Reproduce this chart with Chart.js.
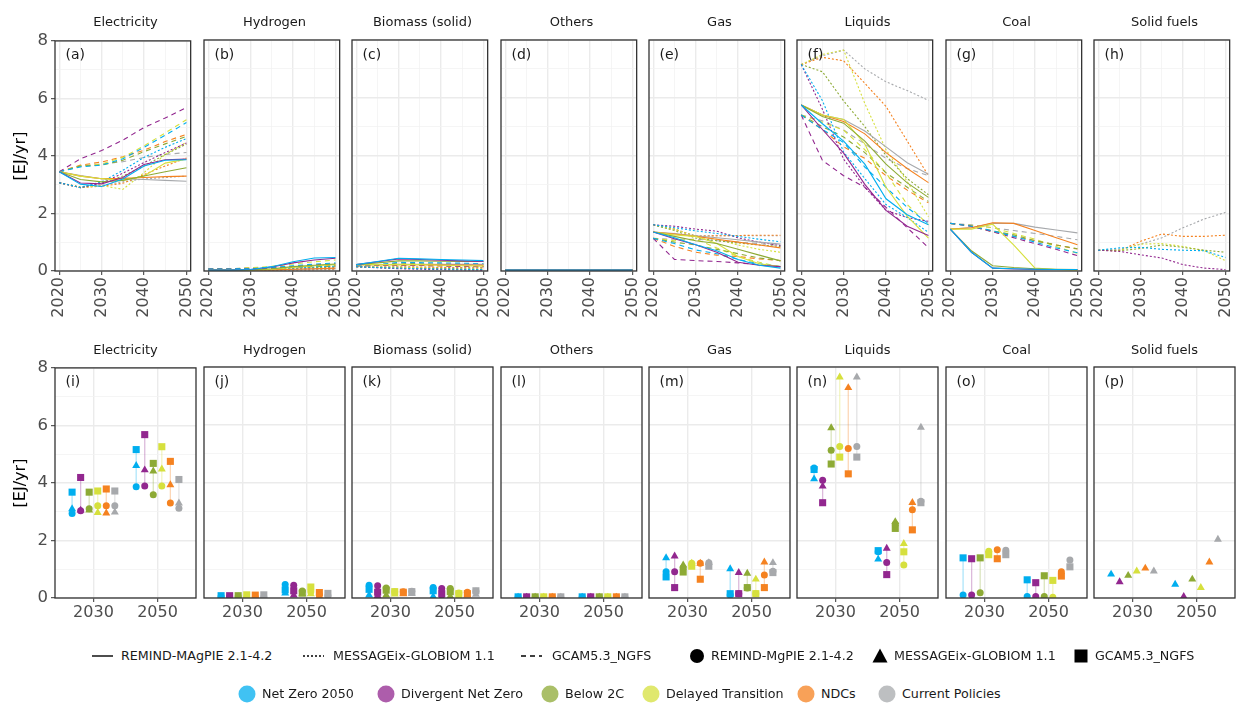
<!DOCTYPE html>
<html>
<head>
<meta charset="utf-8">
<title>Final energy by carrier</title>
<script src="https://cdn.jsdelivr.net/npm/chart.js@4.4.1/dist/chart.umd.min.js"></script>
<style>
  html, body { margin: 0; padding: 0; background: #ffffff; }
  #figure { position: relative; width: 1240px; height: 706px; overflow: hidden;
            font-family: "DejaVu Sans", Verdana, sans-serif; }
  #figure canvas { position: absolute; }
  .strip { position: absolute; width: 141px; text-align: center; font-size: 13px;
           line-height: 15px; color: #1a1a1a; white-space: nowrap; }
  .tag { position: absolute; font-size: 14px; line-height: 16px; color: #1a1a1a; }
  .ytitle { position: absolute; font-size: 16px; line-height: 18px; color: #000;
            white-space: nowrap; transform: translate(-50%, -50%) rotate(-90deg); }
  .lg-text { position: absolute; font-size: 12.7px; line-height: 16px; color: #1a1a1a;
             white-space: nowrap; }
  .lg-key { position: absolute; }
</style>
</head>
<body>
<div id="figure"></div>
<script>
// ---- categories -------------------------------------------------------------
const years = [2020, 2025, 2030, 2035, 2040, 2045, 2050];
const pointYears = [2030, 2050];
const carriers = ['Electricity', 'Hydrogen', 'Biomass (solid)', 'Others',
                  'Gas', 'Liquids', 'Coal', 'Solid fuels'];
const scenarios = ['Net Zero 2050', 'Divergent Net Zero', 'Below 2C',
                   'Delayed Transition', 'NDCs', 'Current Policies'];
const scenarioColors = ['#00AEEF', '#92278F', '#8DAA35', '#D6E03D', '#F58220', '#A7A9AC'];
const lineModels = ['REMIND-MAgPIE 2.1-4.2', 'MESSAGEix-GLOBIOM 1.1', 'GCAM5.3_NGFS'];
const pointModels = ['REMIND-MgPIE 2.1-4.2', 'MESSAGEix-GLOBIOM 1.1', 'GCAM5.3_NGFS'];
const yTickValues = [0, 1, 2, 3, 4, 5, 6, 7, 8];
const yearTickValues = [2020, 2025, 2030, 2035, 2040, 2045, 2050];

// ---- final energy, EJ/yr; rows follow the scenario order, columns the years ----
const electricityRemind = [
  [3.45, 3.02, 2.94, 3.20, 3.65, 3.85, 3.87],
  [3.45, 3.06, 3.03, 3.25, 3.70, 3.87, 3.89],
  [3.45, 3.18, 3.10, 3.15, 3.30, 3.45, 3.59],
  [3.45, 3.30, 3.21, 3.15, 3.30, 3.75, 3.89],
  [3.45, 3.30, 3.21, 3.22, 3.25, 3.28, 3.30],
  [3.45, 3.32, 3.21, 3.20, 3.18, 3.15, 3.12]
];
const electricityMessage = [
  [3.07, 2.90, 3.10, 3.50, 3.95, 4.30, 4.60],
  [3.07, 2.90, 3.05, 3.40, 3.77, 4.12, 4.45],
  [3.07, 2.92, 3.05, 3.30, 3.65, 4.05, 4.41],
  [3.07, 2.90, 2.97, 2.84, 3.42, 4.05, 4.48],
  [3.07, 2.90, 2.95, 3.05, 3.35, 3.65, 3.93],
  [3.07, 2.90, 2.98, 3.10, 3.20, 3.25, 3.30]
];
const electricityGcam = [
  [3.45, 3.62, 3.68, 3.90, 4.30, 4.72, 5.16],
  [3.45, 3.90, 4.19, 4.55, 4.99, 5.32, 5.68],
  [3.45, 3.65, 3.68, 3.85, 4.15, 4.42, 4.68],
  [3.45, 3.65, 3.72, 3.95, 4.35, 4.80, 5.26],
  [3.45, 3.68, 3.79, 3.97, 4.20, 4.50, 4.75],
  [3.45, 3.65, 3.72, 3.80, 3.95, 4.05, 4.12]
];

const hydrogenRemind = [
  [0.03, 0.03, 0.05, 0.15, 0.32, 0.45, 0.47],
  [0.03, 0.03, 0.05, 0.14, 0.28, 0.38, 0.44],
  [0.03, 0.03, 0.04, 0.08, 0.15, 0.20, 0.24],
  [0.03, 0.03, 0.03, 0.06, 0.12, 0.18, 0.22],
  [0.03, 0.03, 0.03, 0.04, 0.06, 0.08, 0.10],
  [0.03, 0.03, 0.03, 0.04, 0.05, 0.07, 0.08]
];
const hydrogenMessage = [
  [0.02, 0.02, 0.03, 0.06, 0.10, 0.14, 0.17],
  [0.02, 0.02, 0.02, 0.04, 0.06, 0.08, 0.10],
  [0.02, 0.02, 0.03, 0.05, 0.09, 0.12, 0.14],
  [0.02, 0.02, 0.02, 0.04, 0.08, 0.11, 0.14],
  [0.02, 0.02, 0.02, 0.03, 0.04, 0.05, 0.06],
  [0.02, 0.02, 0.02, 0.03, 0.04, 0.04, 0.05]
];
const hydrogenGcam = [
  [0.07, 0.07, 0.08, 0.12, 0.18, 0.24, 0.28],
  [0.07, 0.07, 0.08, 0.10, 0.15, 0.21, 0.25],
  [0.07, 0.07, 0.08, 0.09, 0.12, 0.15, 0.17],
  [0.07, 0.07, 0.11, 0.16, 0.24, 0.32, 0.38],
  [0.07, 0.07, 0.10, 0.12, 0.14, 0.17, 0.19],
  [0.07, 0.07, 0.11, 0.12, 0.13, 0.15, 0.16]
];

const biomassRemind = [
  [0.22, 0.33, 0.44, 0.42, 0.40, 0.38, 0.36],
  [0.22, 0.32, 0.42, 0.40, 0.37, 0.35, 0.33],
  [0.22, 0.28, 0.35, 0.35, 0.34, 0.33, 0.33],
  [0.22, 0.22, 0.22, 0.22, 0.20, 0.18, 0.17],
  [0.22, 0.22, 0.22, 0.22, 0.21, 0.21, 0.20],
  [0.22, 0.22, 0.23, 0.23, 0.23, 0.23, 0.23]
];
const biomassMessage = [
  [0.15, 0.12, 0.10, 0.08, 0.07, 0.06, 0.05],
  [0.15, 0.11, 0.08, 0.06, 0.05, 0.04, 0.03],
  [0.15, 0.12, 0.10, 0.09, 0.08, 0.07, 0.06],
  [0.15, 0.14, 0.13, 0.11, 0.09, 0.07, 0.06],
  [0.15, 0.14, 0.14, 0.13, 0.12, 0.11, 0.10],
  [0.15, 0.15, 0.15, 0.14, 0.13, 0.12, 0.12]
];
const biomassGcam = [
  [0.18, 0.22, 0.30, 0.29, 0.28, 0.27, 0.25],
  [0.18, 0.19, 0.20, 0.19, 0.18, 0.16, 0.15],
  [0.18, 0.22, 0.27, 0.25, 0.24, 0.23, 0.22],
  [0.18, 0.20, 0.22, 0.20, 0.18, 0.16, 0.15],
  [0.18, 0.19, 0.20, 0.19, 0.18, 0.16, 0.15],
  [0.18, 0.20, 0.22, 0.23, 0.24, 0.24, 0.25]
];

const othersRemind = [
  [0.03, 0.03, 0.03, 0.03, 0.03, 0.03, 0.03],
  [0.03, 0.03, 0.03, 0.03, 0.03, 0.03, 0.03],
  [0.03, 0.03, 0.03, 0.03, 0.03, 0.03, 0.03],
  [0.03, 0.03, 0.03, 0.03, 0.03, 0.03, 0.03],
  [0.03, 0.03, 0.03, 0.03, 0.03, 0.03, 0.03],
  [0.03, 0.03, 0.03, 0.03, 0.03, 0.03, 0.03]
];
const othersMessage = [
  [0.02, 0.02, 0.02, 0.02, 0.02, 0.02, 0.02],
  [0.02, 0.02, 0.02, 0.02, 0.02, 0.02, 0.02],
  [0.02, 0.02, 0.02, 0.02, 0.02, 0.02, 0.02],
  [0.02, 0.02, 0.02, 0.02, 0.02, 0.02, 0.02],
  [0.02, 0.02, 0.02, 0.02, 0.02, 0.02, 0.02],
  [0.02, 0.02, 0.02, 0.02, 0.02, 0.02, 0.02]
];
const othersGcam = [
  [0.04, 0.04, 0.04, 0.04, 0.04, 0.04, 0.04],
  [0.04, 0.04, 0.04, 0.04, 0.04, 0.04, 0.04],
  [0.04, 0.04, 0.04, 0.04, 0.04, 0.04, 0.04],
  [0.04, 0.04, 0.04, 0.04, 0.04, 0.04, 0.04],
  [0.04, 0.04, 0.04, 0.04, 0.04, 0.04, 0.04],
  [0.04, 0.04, 0.04, 0.04, 0.04, 0.04, 0.04]
];

const gasRemind = [
  [1.35, 1.15, 0.91, 0.70, 0.40, 0.20, 0.10],
  [1.35, 1.12, 0.91, 0.65, 0.30, 0.20, 0.15],
  [1.35, 1.20, 1.05, 0.95, 0.75, 0.55, 0.35],
  [1.35, 1.25, 1.20, 0.95, 0.50, 0.25, 0.15],
  [1.35, 1.28, 1.20, 1.10, 1.00, 0.90, 0.80],
  [1.35, 1.30, 1.22, 1.15, 1.08, 1.00, 0.93]
];
const gasMessage = [
  [1.60, 1.50, 1.39, 1.30, 1.20, 1.10, 1.01],
  [1.60, 1.55, 1.45, 1.38, 1.15, 1.00, 0.88],
  [1.60, 1.40, 1.14, 1.05, 0.97, 0.90, 0.85],
  [1.60, 1.45, 1.20, 1.10, 0.90, 0.75, 0.65],
  [1.60, 1.45, 1.20, 1.22, 1.23, 1.24, 1.24],
  [1.60, 1.45, 1.22, 1.22, 1.22, 1.22, 1.22]
];
const gasGcam = [
  [1.13, 0.95, 0.73, 0.60, 0.40, 0.25, 0.15],
  [1.13, 0.40, 0.36, 0.33, 0.28, 0.22, 0.15],
  [1.13, 1.00, 0.90, 0.75, 0.60, 0.45, 0.36],
  [1.13, 1.05, 1.10, 0.80, 0.50, 0.30, 0.15],
  [1.13, 0.85, 0.65, 0.55, 0.50, 0.42, 0.36],
  [1.13, 1.10, 1.10, 1.05, 1.00, 0.95, 0.88]
];

const liquidsRemind = [
  [5.75, 5.10, 4.50, 3.70, 2.50, 1.95, 1.60],
  [5.75, 4.90, 4.08, 3.00, 2.10, 1.55, 1.23],
  [5.75, 5.35, 5.12, 4.50, 3.70, 3.05, 2.55],
  [5.75, 5.40, 5.25, 4.40, 2.90, 1.90, 1.14],
  [5.75, 5.40, 5.18, 4.75, 4.10, 3.55, 3.06],
  [5.75, 5.40, 5.25, 4.85, 4.30, 3.75, 3.35]
];
const liquidsMessage = [
  [7.15, 5.90, 4.12, 3.20, 2.30, 1.85, 1.34],
  [7.15, 5.60, 3.87, 2.90, 2.10, 1.85, 1.72],
  [7.15, 6.90, 5.89, 5.00, 4.00, 3.20, 2.64],
  [7.15, 7.50, 7.65, 5.80, 4.20, 3.10, 1.88],
  [7.15, 7.40, 7.28, 6.50, 5.70, 4.50, 3.30],
  [7.15, 7.45, 7.65, 7.00, 6.55, 6.25, 5.91]
];
const liquidsGcam = [
  [5.40, 4.90, 4.45, 3.60, 2.90, 2.20, 1.64],
  [5.40, 3.83, 3.30, 2.90, 2.20, 1.50, 0.81],
  [5.40, 5.00, 4.64, 4.10, 3.40, 2.90, 2.41],
  [5.40, 5.15, 4.88, 4.20, 3.40, 2.30, 1.60],
  [5.40, 4.90, 4.30, 3.90, 3.30, 2.80, 2.36],
  [5.40, 5.20, 4.88, 4.40, 3.90, 3.55, 3.30]
];

const coalRemind = [
  [1.45, 0.65, 0.10, 0.08, 0.06, 0.05, 0.05],
  [1.45, 0.65, 0.10, 0.07, 0.05, 0.05, 0.05],
  [1.45, 0.70, 0.18, 0.12, 0.08, 0.06, 0.05],
  [1.45, 1.45, 1.62, 0.90, 0.10, 0.05, 0.03],
  [1.45, 1.50, 1.67, 1.65, 1.40, 1.15, 0.91],
  [1.45, 1.50, 1.65, 1.65, 1.52, 1.42, 1.32]
];
const coalMessage = null;
const coalGcam = [
  [1.65, 1.55, 1.39, 1.20, 1.00, 0.80, 0.63],
  [1.65, 1.55, 1.36, 1.15, 0.95, 0.75, 0.53],
  [1.65, 1.56, 1.39, 1.25, 1.05, 0.90, 0.77],
  [1.65, 1.58, 1.50, 1.30, 1.10, 0.85, 0.61],
  [1.65, 1.55, 1.36, 1.20, 1.05, 0.90, 0.76],
  [1.65, 1.60, 1.50, 1.40, 1.30, 1.20, 1.08]
];

const solidFuelsRemind = null;
const solidFuelsMessage = [
  [0.72, 0.80, 0.82, 0.75, 0.72, 0.70, 0.47],
  [0.72, 0.68, 0.56, 0.45, 0.22, 0.10, 0.05],
  [0.72, 0.70, 0.78, 0.90, 0.82, 0.72, 0.65],
  [0.72, 0.72, 0.93, 0.95, 0.85, 0.70, 0.36],
  [0.72, 0.70, 1.03, 1.28, 1.20, 1.20, 1.24],
  [0.72, 0.75, 0.93, 1.15, 1.50, 1.80, 2.03]
];
const solidFuelsGcam = null;

// per carrier: [REMIND, MESSAGE, GCAM]
const carrierSeries = [
  [electricityRemind, electricityMessage, electricityGcam],
  [hydrogenRemind, hydrogenMessage, hydrogenGcam],
  [biomassRemind, biomassMessage, biomassGcam],
  [othersRemind, othersMessage, othersGcam],
  [gasRemind, gasMessage, gasGcam],
  [liquidsRemind, liquidsMessage, liquidsGcam],
  [coalRemind, coalMessage, coalGcam],
  [solidFuelsRemind, solidFuelsMessage, solidFuelsGcam]
];

// ---- layout & style ----------------------------------------------------------
const PANEL_LEFT = [55, 204, 352, 501, 649, 797, 946, 1094];
const PANEL_W = 141;
const PANEL_H = 231;
const ROW_TOP = [40, 367];
const FONT = '"DejaVu Sans", Verdana, sans-serif';
const TICK_TEXT = '#4d4d4d';
const GRID_MAJOR = '#EBEBEB';
const GRID_MINOR = '#F3F3F3';
const FRAME = '#333333';
const modelDash = [[], [2, 2], [5, 4]];
const modelShape = ['circle', 'triangle', 'rect'];
const modelRadius = [3.5, 4.6, 5.0];
const DODGE = 0.8 / scenarios.length;

function withAlpha(hex, a) {
  const n = parseInt(hex.slice(1), 16);
  return `rgba(${(n >> 16) & 255},${(n >> 8) & 255},${n & 255},${a})`;
}

// panel frame drawn over the data, as in a bordered facet
const panelFrame = {
  id: 'panelFrame',
  afterDatasetsDraw(chart) {
    const { ctx, chartArea: a } = chart;
    ctx.save();
    ctx.strokeStyle = FRAME;
    ctx.lineWidth = 1.3;
    ctx.strokeRect(a.left, a.top, a.right - a.left, a.bottom - a.top);
    ctx.restore();
  }
};

const figure = document.getElementById('figure');

function addDiv(cls, text, left, top, extra) {
  const d = document.createElement('div');
  d.className = cls;
  d.textContent = text;
  d.style.left = left + 'px';
  d.style.top = top + 'px';
  if (extra) Object.assign(d.style, extra);
  figure.appendChild(d);
  return d;
}

function buildPanel(row, col) {
  const first = col === 0;
  const yW = first ? PANEL_LEFT[0] : 12;
  const padTop = 12, padRight = 12, padBottom = 2;
  const xH = row === 0 ? 48 : 26;
  const canvas = document.createElement('canvas');
  canvas.width = yW + PANEL_W + padRight;
  canvas.height = padTop + PANEL_H + xH + padBottom;
  canvas.style.left = (PANEL_LEFT[col] - yW) + 'px';
  canvas.style.top = (ROW_TOP[row] - padTop) + 'px';
  figure.appendChild(canvas);

  const series = carrierSeries[col];
  const datasets = [];

  if (row === 0) {
    series.forEach((rows, m) => {
      if (!rows) return;
      rows.forEach((vals, s) => {
        datasets.push({
          type: 'line',
          data: years.map((yr, i) => ({ x: yr, y: vals[i] })),
          borderColor: scenarioColors[s],
          borderWidth: 1.1,
          borderDash: modelDash[m],
          pointRadius: 0,
          tension: 0,
          fill: false,
          clip: 0
        });
      });
    });
  } else {
    pointYears.forEach((yr, k) => {
      const yi = years.indexOf(yr);
      scenarios.forEach((_, s) => {
        const x = k + 1 + (s - (scenarios.length - 1) / 2) * DODGE;
        const vals = series.filter(Boolean).map(rows => rows[s][yi]);
        if (vals.length > 1) {
          datasets.push({
            type: 'scatter',
            showLine: true,
            order: 2,
            data: [{ x, y: Math.min(...vals) }, { x, y: Math.max(...vals) }],
            borderColor: withAlpha(scenarioColors[s], 0.32),
            borderWidth: 1.3,
            pointRadius: 0,
            clip: 0
          });
        }
        series.forEach((rows, m) => {
          if (!rows) return;
          datasets.push({
            type: 'scatter',
            order: 1,
            data: [{ x, y: rows[s][yi] }],
            pointStyle: modelShape[m],
            pointRadius: modelRadius[m],
            backgroundColor: scenarioColors[s],
            borderWidth: 0,
            clip: 0
          });
        });
      });
    });
  }

  const xTop = row === 0;
  const xTicks = xTop ? yearTickValues : [1, 2];
  const xMajor = v => xTop ? v % 10 === 0 : true;

  new Chart(canvas, {
    type: xTop ? 'line' : 'scatter',
    data: { datasets },
    options: {
      responsive: false,
      animation: false,
      events: [],
      layout: { padding: { top: padTop, right: padRight, bottom: padBottom, left: 0 } },
      plugins: { legend: { display: false }, tooltip: { enabled: false } },
      scales: {
        x: {
          type: 'linear',
          min: xTop ? 2019 : 0.4,
          max: xTop ? 2051 : 2.6,
          afterBuildTicks: s => { s.ticks = xTicks.map(v => ({ value: v })); },
          afterFit: s => { s.height = xH; },
          border: { display: false },
          grid: {
            color: c => xMajor(c.tick.value) ? GRID_MAJOR : GRID_MINOR,
            lineWidth: c => xMajor(c.tick.value) ? 1.4 : 0.8,
            tickColor: c => xMajor(c.tick.value) ? FRAME : 'rgba(0,0,0,0)',
            tickLength: 4,
            tickWidth: 1
          },
          ticks: {
            autoSkip: false,
            minRotation: xTop ? 90 : 0,
            maxRotation: xTop ? 90 : 0,
            padding: xTop ? 2 : 1,
            color: TICK_TEXT,
            font: { family: FONT, size: 16 },
            callback: (v, i) => xTop ? (v % 10 === 0 ? String(v) : '') : String(pointYears[i])
          }
        },
        y: {
          type: 'linear',
          min: 0,
          max: 8,
          afterBuildTicks: s => { s.ticks = yTickValues.map(v => ({ value: v })); },
          afterFit: s => { s.width = yW; },
          border: { display: false },
          grid: {
            color: c => c.tick.value % 2 === 0 ? GRID_MAJOR : GRID_MINOR,
            lineWidth: c => c.tick.value % 2 === 0 ? 1.4 : 0.8,
            tickColor: c => c.tick.value % 2 === 0 ? FRAME : 'rgba(0,0,0,0)',
            drawTicks: first,
            tickLength: 4,
            tickWidth: 1
          },
          ticks: {
            display: first,
            autoSkip: false,
            padding: 3,
            color: TICK_TEXT,
            font: { family: FONT, size: 16.5 },
            callback: v => v % 2 === 0 ? String(v) : ''
          }
        }
      }
    },
    plugins: [panelFrame]
  });

  // facet strip and panel tag
  addDiv('strip', carriers[col], PANEL_LEFT[col], row === 0 ? 13.5 : 341.5);
  const letter = String.fromCharCode(97 + row * 8 + col);
  addDiv('tag', '(' + letter + ')', PANEL_LEFT[col] + 10.5, ROW_TOP[row] + 5.5);
}

for (let r = 0; r < 2; r++) {
  for (let c = 0; c < carriers.length; c++) buildPanel(r, c);
}

// y-axis titles
addDiv('ytitle', '[EJ/yr]', 20, ROW_TOP[0] + PANEL_H / 2);
addDiv('ytitle', '[EJ/yr]', 20, ROW_TOP[1] + PANEL_H / 2);

// ---- legends -------------------------------------------------------------------
const SVGNS = 'http://www.w3.org/2000/svg';
function svgKey(left, top, w, h, build) {
  const svg = document.createElementNS(SVGNS, 'svg');
  svg.setAttribute('width', w);
  svg.setAttribute('height', h);
  svg.setAttribute('class', 'lg-key');
  svg.style.left = left + 'px';
  svg.style.top = top + 'px';
  build(svg);
  figure.appendChild(svg);
}
function el(name, attrs) {
  const e = document.createElementNS(SVGNS, name);
  for (const k in attrs) e.setAttribute(k, attrs[k]);
  return e;
}

const ROW1 = 656, ROW2 = 694;
const lineKeyX = [92, 303, 521];
const lineTextX = [121, 333, 552];
lineModels.forEach((name, m) => {
  svgKey(lineKeyX[m], ROW1 - 5, 21, 10, svg => {
    const ln = el('line', { x1: 0, y1: 5, x2: 21, y2: 5, stroke: '#000', 'stroke-width': 1.4 });
    if (modelDash[m].length) ln.setAttribute('stroke-dasharray', modelDash[m].join(' '));
    svg.appendChild(ln);
  });
  addDiv('lg-text', name, lineTextX[m], ROW1 - 8);
});

const shapeCenterX = [697, 880, 1081];
const shapeTextX = [711, 894, 1095];
pointModels.forEach((name, m) => {
  svgKey(shapeCenterX[m] - 8, ROW1 - 8, 16, 16, svg => {
    if (m === 0) svg.appendChild(el('circle', { cx: 8, cy: 8, r: 7, fill: '#000' }));
    else if (m === 1) svg.appendChild(el('polygon', { points: '8,0.5 15.5,14.5 0.5,14.5', fill: '#000' }));
    else svg.appendChild(el('rect', { x: 1.5, y: 1.5, width: 13, height: 13, fill: '#000' }));
  });
  addDiv('lg-text', name, shapeTextX[m], ROW1 - 8);
});

const scenTextX = [262, 401, 565, 666, 821, 902];
scenarios.forEach((name, s) => {
  const cx = scenTextX[s] - 15.5;
  svgKey(cx - 9, ROW2 - 9, 18, 18, svg => {
    svg.appendChild(el('circle', { cx: 9, cy: 9, r: 8.5, fill: scenarioColors[s], 'fill-opacity': 0.75 }));
  });
  addDiv('lg-text', name, scenTextX[s], ROW2 - 8);
});
</script>
</body>
</html>
